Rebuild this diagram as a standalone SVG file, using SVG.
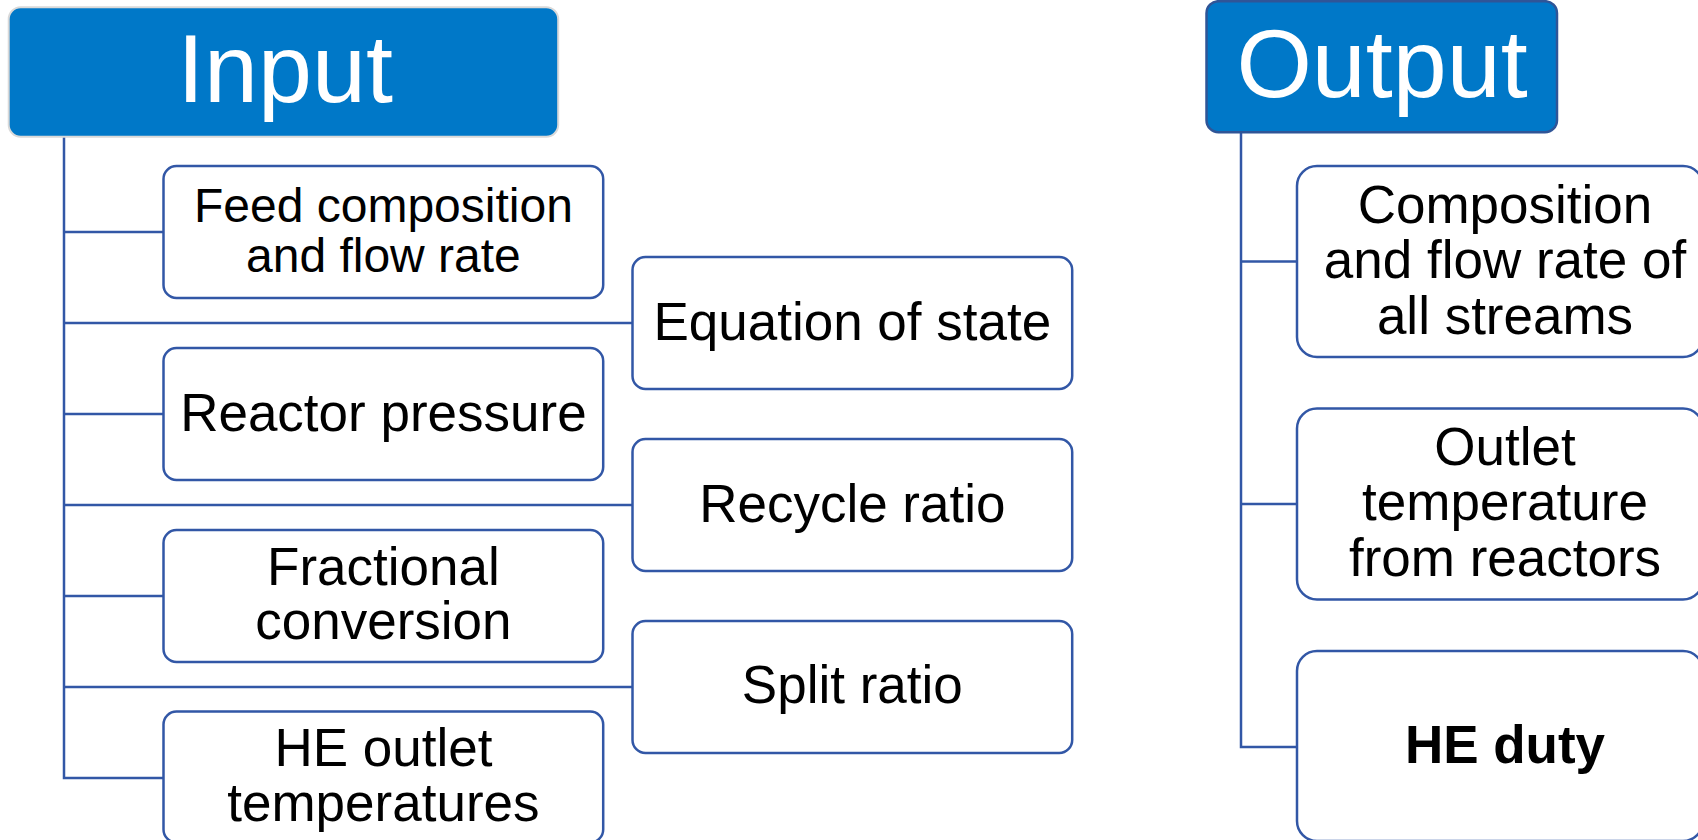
<svg xmlns="http://www.w3.org/2000/svg" width="1698" height="840" viewBox="0 0 1698 840">
  <style>
    .bg { fill: #ffffff; }
    .head { fill: #0078C8; }
    .head-in { stroke: #d9d9d9; stroke-width: 2; }
    .head-out { stroke: #2F5597; stroke-width: 2.5; }
    .head-text { font-family: "Liberation Sans", Arial, sans-serif; font-size: 97px; fill: #ffffff; text-anchor: middle; }
    .box { fill: #ffffff; stroke: #3257A6; stroke-width: 2.5; }
    .txt { font-family: "Liberation Sans", Arial, sans-serif; font-size: 53px; fill: #000000; text-anchor: middle; }
    .small { font-size: 48px; }
    .bold { font-weight: bold; }
    .conn { fill: none; stroke: #3257A6; stroke-width: 2.5; }
  </style>

  <rect class="bg" x="0" y="0" width="1698" height="840"/>

  <!-- tree connectors -->
  <g id="connectors">
    <path class="conn" d="M64 137 V778 H163.5"/>
    <path class="conn" d="M64 232 H163.5"/>
    <path class="conn" d="M64 323 H632.5"/>
    <path class="conn" d="M64 414 H163.5"/>
    <path class="conn" d="M64 505 H632.5"/>
    <path class="conn" d="M64 596 H163.5"/>
    <path class="conn" d="M64 687 H632.5"/>

    <path class="conn" d="M1241 132 V747 H1297"/>
    <path class="conn" d="M1241 261.5 H1297"/>
    <path class="conn" d="M1241 504 H1297"/>
  </g>

  <!-- Input branch -->
  <g id="input">
    <rect class="head head-in" x="8.7" y="7.3" width="549.5" height="129.5" rx="12"/>
    <text class="head-text" x="285" y="101.5">Input</text>
  </g>

  <g id="feed">
    <rect class="box" x="163.5" y="166" width="439.7" height="132" rx="13"/>
    <text class="txt small" x="383.4" y="221.7">Feed composition</text>
    <text class="txt small" x="383.4" y="271.7">and flow rate</text>
  </g>

  <g id="eos">
    <rect class="box" x="632.5" y="257" width="439.7" height="132" rx="13"/>
    <text class="txt" x="852.3" y="339.5">Equation of state</text>
  </g>

  <g id="pressure">
    <rect class="box" x="163.5" y="348" width="439.7" height="132" rx="13"/>
    <text class="txt" x="383.4" y="431">Reactor pressure</text>
  </g>

  <g id="recycle">
    <rect class="box" x="632.5" y="439" width="439.7" height="132" rx="13"/>
    <text class="txt" x="852.3" y="521.5">Recycle ratio</text>
  </g>

  <g id="conversion">
    <rect class="box" x="163.5" y="530" width="439.7" height="132" rx="13"/>
    <text class="txt" x="383.4" y="584.5">Fractional</text>
    <text class="txt" x="383.4" y="639">conversion</text>
  </g>

  <g id="split">
    <rect class="box" x="632.5" y="621" width="439.7" height="132" rx="13"/>
    <text class="txt" x="852.3" y="703">Split ratio</text>
  </g>

  <g id="he-outlet">
    <rect class="box" x="163.5" y="711.5" width="439.7" height="131" rx="13"/>
    <text class="txt" x="383.4" y="766">HE outlet</text>
    <text class="txt" x="383.4" y="820.5">temperatures</text>
  </g>

  <!-- Output branch -->
  <g id="output">
    <rect class="head head-out" x="1206.5" y="1.2" width="350.5" height="131" rx="12"/>
    <text class="head-text" x="1382" y="96.7">Output</text>
  </g>

  <g id="streams">
    <rect class="box" x="1297" y="166" width="406" height="191" rx="20"/>
    <text class="txt" x="1505" y="222.7">Composition</text>
    <text class="txt" x="1505" y="278.3">and flow rate of</text>
    <text class="txt" x="1505" y="334">all streams</text>
  </g>

  <g id="outlet-temp">
    <rect class="box" x="1297" y="408.5" width="406" height="191" rx="20"/>
    <text class="txt" x="1505" y="465">Outlet</text>
    <text class="txt" x="1505" y="519.5">temperature</text>
    <text class="txt" x="1505" y="575.7">from reactors</text>
  </g>

  <g id="he-duty">
    <rect class="box" x="1297" y="651" width="406" height="190" rx="20"/>
    <text class="txt bold" x="1505" y="762.7">HE duty</text>
  </g>
</svg>
